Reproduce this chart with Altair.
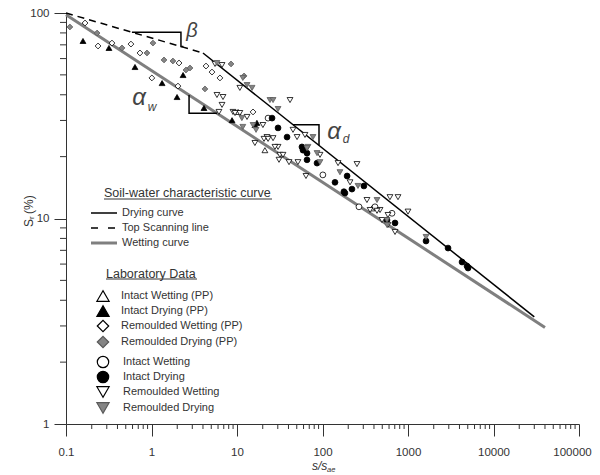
import altair as alt
import pandas as pd

W, H = 513, 411
FONT = "Liberation Sans"
TXT = "#333333"

# ---------------- data (s/s_ae , S_r %) ----------------
series_names = ["Intact Wetting (PP)", "Intact Drying (PP)", "Remoulded Wetting (PP)",
                "Remoulded Drying (PP)", "Intact Wetting", "Intact Drying",
                "Remoulded Wetting", "Remoulded Drying"]
series_shapes = ["triangle-up", "triangle-up", "diamond", "diamond",
                 "circle", "circle", "triangle-down", "triangle-down"]
series_fill = ["white", "black", "white", "#858585", "white", "black", "white", "#858585"]
series_stroke = ["black", "black", "black", "#5a5a5a", "black", "black", "black", "#5a5a5a"]

iw_pp_x = [10.3, 21.2, 379]
iw_pp_y = [33.0, 21.5, 11.2]
id_pp_x = [0.158, 0.318, 0.641, 1.33, 1.99, 2.34, 4.11, 8.75, 16.2, 17.1]
id_pp_y = [73.1, 67.6, 54.6, 45.6, 39.0, 49.9, 34.5, 30.1, 28.5, 29.2]
rw_pp_x = [0.167, 0.237, 0.345, 0.575, 0.733, 1.01, 2.04, 2.10, 4.34, 6.32, 15.4, 5.10]
rw_pp_y = [89.4, 69.1, 71.4, 70.6, 63.9, 48.3, 44.1, 57.1, 55.2, 48.3, 33.0, 51.6]
rd_pp_x = [0.111, 0.231, 0.452, 1.04, 0.885, 1.40, 1.78, 2.53, 2.82, 4.22, 8.51, 12.1]
rd_pp_y = [85.5, 79.9, 67.6, 71.4, 63.9, 59.1, 58.4, 52.8, 54.0, 42.7, 56.5, 49.4]
iw_x = [23.1, 101, 267, 411, 650]
iw_y = [30.8, 16.3, 11.4, 11.4, 10.6]
id_x = [25.7, 30.2, 38.5, 57.5, 65.9, 59.2, 65.9, 86.3, 140, 194, 178, 221, 305,
        705, 1625, 2940, 183, 568, 4285, 4900, 5040]
id_y = [30.8, 27.6, 24.9, 22.3, 20.8, 21.5, 19.3, 18.6, 15.0, 16.1, 13.5, 13.9, 14.4,
        9.51, 7.77, 7.18, 13.3, 9.83, 6.14, 5.87, 5.74]
rw_x = [5.53, 6.68, 10.8, 5.83, 6.86, 6.68, 6.15, 8.98, 10.8, 13.1,
        20.1, 22.4, 26.4, 30.2, 31.8, 45.2, 50.4, 62.4, 41.7, 9.48,
        16.2, 20.7, 23.1, 27.8, 31.0, 34.5, 40.6, 51.6, 64.1, 93.5,
        152, 210, 253, 331, 471, 615, 764, 1000, 705, 583,
        360, 434, 497, 583]
rw_y = [56.5, 55.8, 43.2, 39.9, 39.0, 35.7, 33.0, 33.0, 32.6, 31.2,
        28.5, 24.9, 24.6, 22.3, 20.4, 27.0, 24.9, 25.5, 37.7, 32.6,
        23.3, 24.4, 24.4, 22.3, 19.3, 20.4, 18.8, 18.8, 16.1, 20.4,
        18.6, 15.0, 18.4, 12.3, 11.0, 12.7, 12.7, 10.8, 8.60, 9.30,
        11.0, 10.9, 9.83, 10.4]
rd_x = [5.83, 11.7, 13.1, 15.0, 24.3, 30.2, 11.7, 15.4, 77.4, 67.6, 86.3,
        11.4, 16.7, 26.4, 65.9, 93.5, 160, 260, 434, 568, 1625, 568]
rd_y = [57.1, 48.3, 44.6, 43.2, 37.7, 34.1, 27.9, 28.5, 24.9, 22.3, 20.8,
        30.8, 27.0, 37.7, 22.0, 18.8, 16.8, 14.4, 12.3, 9.83, 8.13, 9.30]

series_x = [iw_pp_x, id_pp_x, rw_pp_x, rd_pp_x, iw_x, id_x, rw_x, rd_x]
series_y = [iw_pp_y, id_pp_y, rw_pp_y, rd_pp_y, iw_y, id_y, rw_y, rd_y]

# soil-water characteristic curves
dry_x = [4.0, 30000]
dry_y = [63.9, 3.32]
scan_x = [0.1, 4.0]
scan_y = [100, 63.9]
wet_x = [0.1, 40000]
wet_y = [98, 2.95]

# slope markers
beta_x = [0.59, 2.21, 2.21, 2.36]
beta_y = [80.6, 80.6, 68.7, 68.7]
aw_x = [2.75, 2.75, 5.83]
aw_y = [39.9, 32.5, 32.5]
ad_x = [45.2, 91.0, 91.0]
ad_y = [28.6, 28.6, 22.7]

x_ticks = [0.1, 1, 10, 100, 1000, 10000, 100000]
x_tick_labels = ["0.1", "1", "10", "100", "1000", "10000", "100000"]
y_ticks = [1, 10, 100]
y_tick_labels = ["1", "10", "100"]
x_minor = [k * d for d in [0.1, 1, 10, 100, 1000, 10000] for k in range(2, 10)]
y_minor = [k * d for d in [1, 10] for k in range(2, 10)]

# ---------------- build ----------------
xs = alt.Scale(type="log", domain=[0.1, 100000])
ys = alt.Scale(type="log", domain=[1, 100])
one = pd.DataFrame({"a": [0]})


def lbl_expr(vals, labels):
    e = "''"
    for v, l in zip(vals, labels):
        e = f"(abs(datum.value - {v}) < {v}*0.01) ? '{l}' : ({e})"
    return e


ax_common = dict(domainColor="#333", tickColor="#333", tickSize=12, tickWidth=1,
                 labelFont=FONT, labelFontSize=11.5, labelColor=TXT, grid=False,
                 title=None, labelOverlap=False, labelFlush=False)
XAX = alt.Axis(values=x_ticks, labelExpr=lbl_expr(x_ticks, x_tick_labels),
               labelPadding=10,
               labelOffset={"expr": "datum.value > 50000 ? -7 : 0"},
               **ax_common)
YAX = alt.Axis(values=y_ticks, labelExpr=lbl_expr(y_ticks, y_tick_labels),
               labelPadding=5, **ax_common)


def X(field):
    return alt.X(field, scale=xs, axis=XAX)


def Y(field):
    return alt.Y(field, scale=ys, axis=YAX)


def curve(xv, yv, **mk):
    df = pd.DataFrame({"x": xv, "y": yv, "o": list(range(len(xv)))})
    return alt.Chart(df).mark_line(**mk).encode(x=X("x:Q"), y=Y("y:Q"), order="o:Q")


wet_layer = curve(wet_x, wet_y, color="#7f7f7f", strokeWidth=3)
dry_layer = curve(dry_x, dry_y, color="black", strokeWidth=1.5)
scan_layer = curve(scan_x, scan_y, color="black", strokeWidth=1.5, strokeDash=[7, 5])
beta_layer = curve(beta_x, beta_y, color="black", strokeWidth=1.5)
aw_layer = curve(aw_x, aw_y, color="black", strokeWidth=1.5)
ad_layer = curve(ad_x, ad_y, color="black", strokeWidth=1.5)

xminor_layer = alt.Chart(pd.DataFrame({"x": x_minor})).mark_rule(color="#333", strokeWidth=1).encode(
    x=X("x:Q"), y=alt.value(H), y2=alt.value(H + 5))
yminor_layer = alt.Chart(pd.DataFrame({"y": y_minor})).mark_rule(color="#333", strokeWidth=1).encode(
    y=Y("y:Q"), x=alt.value(0), x2=alt.value(-6))

rows = []
for name, xv, yv in zip(series_names, series_x, series_y):
    for a, b in zip(xv, yv):
        rows.append({"x": a, "y": b, "series": name})
pts = pd.DataFrame(rows)
pts_layer = alt.Chart(pts).mark_point(filled=True, strokeWidth=0.8, opacity=1).encode(
    x=X("x:Q"), y=Y("y:Q"),
    shape=alt.Shape("series:N", scale=alt.Scale(domain=series_names, range=series_shapes), legend=None),
    fill=alt.Fill("series:N", scale=alt.Scale(domain=series_names, range=series_fill), legend=None),
    stroke=alt.Stroke("series:N", scale=alt.Scale(domain=series_names, range=series_stroke), legend=None),
    size=alt.value(34))


def txt(x, y, t, size=11, align="left", baseline="middle", style="normal", color=TXT, angle=None):
    kw = dict(align=align, baseline=baseline, fontSize=size, fontStyle=style, color=color, font=FONT)
    if angle is not None:
        kw["angle"] = angle
    return alt.Chart(one).mark_text(**kw).encode(x=alt.value(x), y=alt.value(y), text=alt.value(t))


def hrule(x1, x2, y, color="#333", width=1.0, dash=None):
    kw = dict(color=color, strokeWidth=width)
    if dash:
        kw["strokeDash"] = dash
    return alt.Chart(one).mark_rule(**kw).encode(x=alt.value(x1), x2=alt.value(x2), y=alt.value(y))


deco = []
# axis titles
deco += [txt(-37, 214, "S", size=12, angle=270),
         txt(-34, 206, "r", size=8, angle=270),
         txt(-37, 201, "(%)", size=12, angle=270),
         txt(246, 453, "s/s", size=12, style="italic"),
         txt(261, 457, "ae", size=7.5, style="italic")]
# slope labels
deco += [txt(126, 18, "β", size=20, align="center", style="italic", color="#444"),
         txt(73, 85, "α", size=24, align="center", style="italic", color="#444"),
         txt(86, 94, "w", size=12, align="center", style="italic", color="#444"),
         txt(268, 119, "α", size=24, align="center", style="italic", color="#444"),
         txt(280, 126, "d", size=12, align="center", style="italic", color="#444")]
# legend: curves
deco += [txt(38, 180, "Soil-water characteristic curve", size=12.5),
         hrule(38, 206, 186),
         hrule(25, 51, 200, color="black", width=1.5),
         hrule(25, 49, 215, color="black", width=1.5, dash=[7, 10]),
         hrule(25, 51, 230, color="#7f7f7f", width=3),
         txt(56, 200, "Drying curve"),
         txt(56, 215, "Top Scanning line"),
         txt(56, 230, "Wetting curve")]
# legend: laboratory data
deco += [txt(40, 261, "Laboratory Data", size=12.5),
         hrule(40, 131, 266)]
leg_y = [283, 298, 313, 329, 349, 364, 379, 395]
leg_tx = [55, 55, 55, 55, 57, 57, 57, 57]
leg_size = [150, 150, 130, 130, 130, 130, 150, 150]
for name, shp, fl, st, yy, tx, sz in zip(series_names, series_shapes, series_fill,
                                         series_stroke, leg_y, leg_tx, leg_size):
    deco.append(alt.Chart(one).mark_point(filled=True, strokeWidth=1.2, opacity=1).encode(
        x=alt.value(37), y=alt.value(yy), shape=alt.value(shp), fill=alt.value(fl),
        stroke=alt.value(st), size=alt.value(sz)))
    deco.append(txt(tx, yy, name))

chart = alt.layer(wet_layer, dry_layer, scan_layer, beta_layer, aw_layer, ad_layer,
                  xminor_layer, yminor_layer, pts_layer, *deco).properties(
    width=W, height=H,
    autosize=alt.AutoSizeParams(type="none"),
    padding={"left": 58, "top": 5, "right": 13, "bottom": 50},
    background="white",
).configure_view(stroke=None)

chart.save("out.html", embed_options={"renderer": "svg", "actions": False})
